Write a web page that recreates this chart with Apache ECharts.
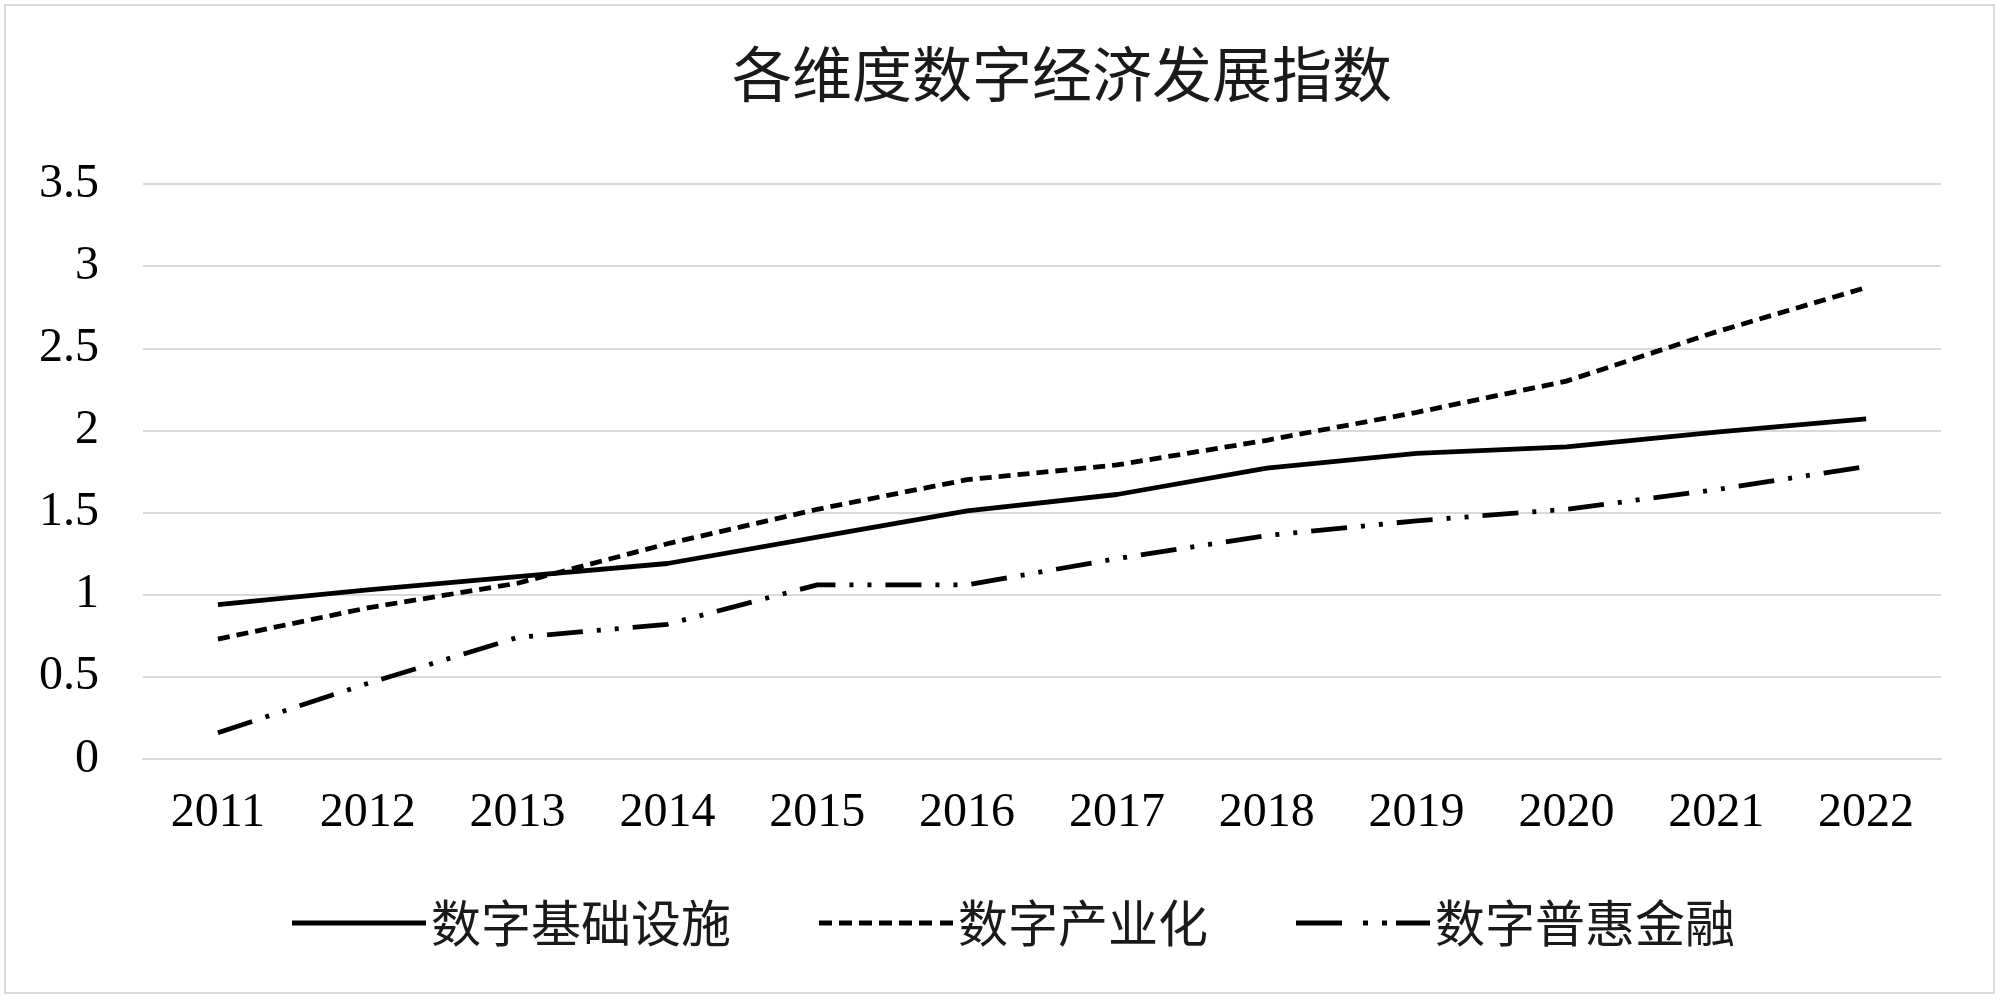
<!DOCTYPE html>
<html>
<head>
<meta charset="utf-8">
<script src="https://cdn.jsdelivr.net/npm/echarts@6/dist/echarts.min.js"></script>
<style>
html,body{margin:0;padding:0;background:#fff;}
#chart{width:2000px;height:1001px;}
</style>
</head>
<body>
<div id="chart"></div>
<script>
const titleText = '各维度数字经济发展指数';
const years = ['2011','2012','2013','2014','2015','2016','2017','2018','2019','2020','2021','2022'];
const seriesNames = ['数字基础设施','数字产业化','数字普惠金融'];
const infrastructure = [0.94, 1.03, 1.11, 1.19, 1.35, 1.51, 1.61, 1.77, 1.86, 1.90, 1.99, 2.07];
const industrialization = [0.73, 0.92, 1.07, 1.31, 1.52, 1.70, 1.79, 1.94, 2.11, 2.30, 2.60, 2.87];
const inclusiveFinance = [0.16, 0.46, 0.74, 0.82, 1.06, 1.06, 1.22, 1.36, 1.45, 1.52, 1.64, 1.78];
const yTicks = {min: 0, max: 3.5, interval: 0.5};

const chart = echarts.init(document.getElementById('chart'), null, {renderer: 'canvas'});
const serif = '"Liberation Serif", "Times New Roman", serif';
const cjk = '"Noto Sans CJK SC", sans-serif';

// legend icon shapes (line pattern glyphs)
const iconSolid = 'path://M0,0H134V5H0Z';
const iconDashed = 'path://M0,0h13v5h-13zM20,0h13v5h-13zM40,0h13v5h-13zM60,0h13v5h-13zM80,0h13v5h-13zM100,0h13v5h-13zM121,0h13v5h-13z';
const iconDashDot = 'path://M0,0h46v5h-46zM67,0h5v5h-5zM86,0h5v5h-5zM100,0h34v5h-34z';

function lineSeries(name, data, dash) {
  return {
    name: name,
    type: 'line',
    data: data,
    symbol: 'none',
    smooth: false,
    lineStyle: {color: '#000', width: 4.8, type: dash, cap: 'butt'},
    itemStyle: {color: '#000'}
  };
}

chart.setOption({
  backgroundColor: '#fff',
  animation: false,
  title: {
    text: titleText,
    left: 727,
    top: 39,
    textStyle: {fontFamily: cjk, fontSize: 60, fontWeight: 'normal', color: '#1a1a1a'}
  },
  legend: {
    data: [
      {name: seriesNames[0], icon: iconSolid},
      {name: seriesNames[1], icon: iconDashed},
      {name: seriesNames[2], icon: iconDashDot}
    ],
    top: 893,
    left: 287,
    itemWidth: 134,
    itemHeight: 5,
    itemGap: 88,
    itemStyle: {color: '#000', borderWidth: 0},
    textStyle: {fontFamily: cjk, fontSize: 50, color: '#1a1a1a'}
  },
  grid: {left: 143, right: 59, top: 184, bottom: 242, containLabel: false},
  xAxis: {
    type: 'category',
    data: years,
    boundaryGap: true,
    axisLine: {show: true, lineStyle: {color: '#d9d9d9', width: 2}},
    axisTick: {show: false},
    axisLabel: {fontFamily: serif, fontSize: 48, color: '#000', margin: 30}
  },
  yAxis: {
    type: 'value',
    min: yTicks.min,
    max: yTicks.max,
    interval: yTicks.interval,
    axisLine: {show: false},
    axisTick: {show: false},
    splitLine: {lineStyle: {color: '#d9d9d9', width: 2}},
    axisLabel: {fontFamily: serif, fontSize: 48, color: '#000', margin: 44}
  },
  graphic: [{
    type: 'rect',
    shape: {x: 5, y: 5, width: 1989, height: 988},
    style: {fill: 'none', stroke: '#d9d9d9', lineWidth: 2},
    silent: true
  }],
  series: [
    lineSeries(seriesNames[0], infrastructure, 'solid'),
    lineSeries(seriesNames[1], industrialization, [12, 7]),
    lineSeries(seriesNames[2], inclusiveFinance, [36, 14, 4, 14, 4, 14])
  ]
});
</script>
</body>
</html>
